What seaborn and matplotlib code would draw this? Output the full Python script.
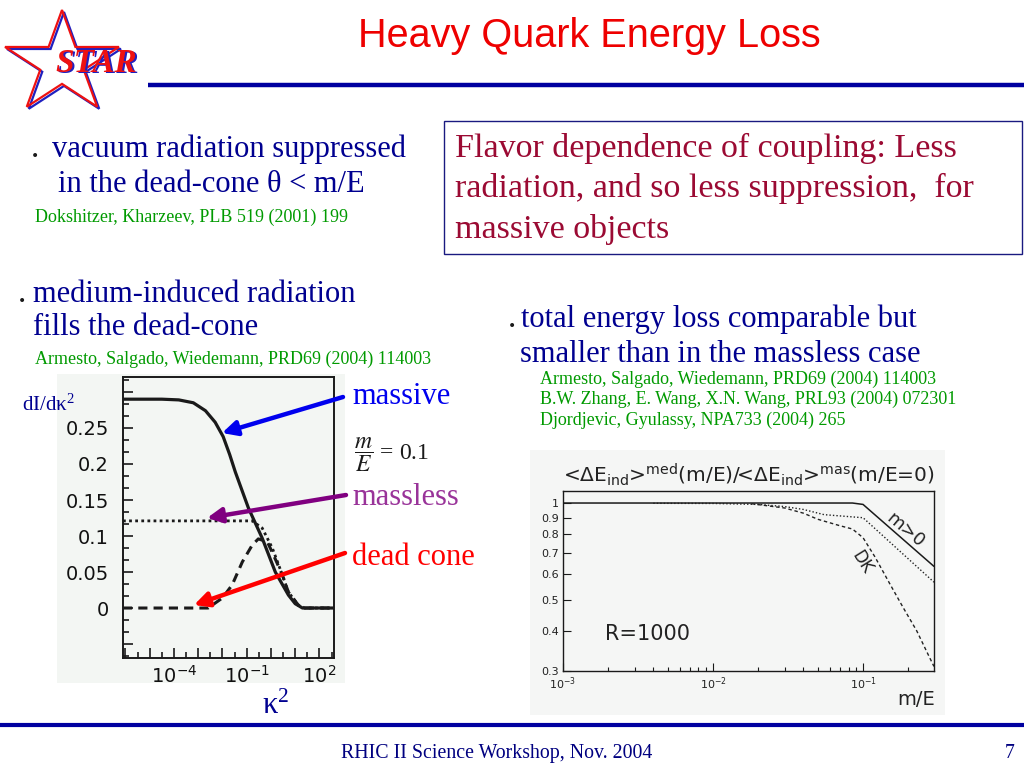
import numpy as np
import matplotlib
matplotlib.use("Agg")
import matplotlib.pyplot as plt
import seaborn as sns
from matplotlib.patches import Rectangle, Polygon
from matplotlib.ticker import FixedLocator, FixedFormatter, FuncFormatter, MultipleLocator, NullLocator

# ---------------- data: left plot, dI/dk2 vs k2 (m/E = 0.1), k2 as log10 ----------------
massive_logk2 = [-6.1, -4.5, -3.8, -3.2, -2.7, -2.3, -1.97, -1.7, -1.47, -0.93, -0.36, 0.18, 0.72, 1.0, 1.3, 2.6]
massive_val = [0.29, 0.29, 0.289, 0.285, 0.274, 0.258, 0.238, 0.213, 0.189, 0.139, 0.097, 0.05, 0.018, 0.006, 0.0, 0.0]
massless_logk2 = [-6.1, -3.0, -0.77, -0.36, 0.06, 0.47, 0.72, 1.13, 1.4, 2.6]
massless_val = [0.121, 0.121, 0.121, 0.111, 0.083, 0.046, 0.022, 0.004, 0.0, 0.0]
deadcone_logk2 = [-6.1, -2.59, -2.0, -1.6, -1.18, -0.77, -0.52, -0.15, 0.1, 0.47, 0.72, 1.13, 1.4, 2.6]
deadcone_val = [0.0, 0.0, 0.014, 0.032, 0.064, 0.0875, 0.096, 0.092, 0.074, 0.046, 0.022, 0.004, 0.0, 0.0]
left_ytick_labels = ["0", "0.05", "0.1", "0.15", "0.2", "0.25"]

# ---------------- data: right plot, <dE>med(m/E) / <dE>(m/E=0), R = 1000 ----------------
me_solid = [0.001, 0.085, 0.1, 0.297]
ratio_solid = [1.0, 1.0, 0.99, 0.635]
me_dotted = [0.004, 0.01, 0.02, 0.03, 0.04, 0.055, 0.1, 0.297]
ratio_dotted = [0.998, 0.997, 0.99, 0.975, 0.955, 0.92, 0.90, 0.567]
me_dk = [0.018, 0.03, 0.04, 0.05, 0.07, 0.085, 0.1, 0.12, 0.15, 0.184, 0.228, 0.278, 0.297]
ratio_dk = [0.995, 0.965, 0.93, 0.89, 0.85, 0.83, 0.78, 0.68, 0.563, 0.475, 0.40, 0.33, 0.31]
right_yticks = [0.3, 0.4, 0.5, 0.6, 0.7, 0.8, 0.9, 1.0]
right_ytick_labels = ["0.3", "0.4", "0.5", "0.6", "0.7", "0.8", "0.9", "1"]

sns.set_theme(style="white")
plt.rcParams['font.family'] = ['Liberation Serif', 'DejaVu Sans']
plt.rcParams['mathtext.fontset'] = 'stix'
plt.rcParams['mathtext.default'] = 'regular'
plt.rcParams['xtick.direction'] = 'in'
plt.rcParams['ytick.direction'] = 'in'

W, H = 1024, 768
fig = plt.figure(figsize=(10.24, 7.68), dpi=100)
fig.patch.set_facecolor('white')


def pix_axes(x0, y0, x1, y1, **kw):
    return fig.add_axes([x0 / W, 1 - y1 / H, (x1 - x0) / W, (y1 - y0) / H], **kw)


bg = pix_axes(0, 0, W, H, zorder=0)
fg = pix_axes(0, 0, W, H, zorder=10)
for a in (bg, fg):
    a.set_xlim(0, W)
    a.set_ylim(H, 0)
    a.axis('off')

BLUE_TXT = '#000090'
GREEN = '#009a00'
SERIF = ['Liberation Serif', 'DejaVu Sans']
ROOTF = 'DejaVu Sans'


def txt(x, y, s, size=22, color=BLUE_TXT, **kw):
    kw.setdefault('va', 'baseline')
    kw.setdefault('family', SERIF)
    fg.text(x, y, s, fontsize=size, color=color, **kw)


# plot backgrounds (scanned images)
bg.add_patch(Rectangle((57, 374), 288, 309, color='#f3f6f3', lw=0))
bg.add_patch(Rectangle((530, 450), 415, 265, color='#f5f6f5', lw=0))

# ---------------- header ----------------
txt(589, 47, "Heavy Quark Energy Loss", size=28.5, color='#ee0000', ha='center',
    family=['Liberation Sans', 'DejaVu Sans'])
fg.plot([148, W], [85, 85], color='#0000a0', lw=3.2, solid_capstyle='butt')

# STAR logo
ang = np.deg2rad(90 + 36 * np.arange(10))
rad = np.where(np.arange(10) % 2 == 0, 53.5, 20.4)
sx = 62 + 1.12 * rad * np.cos(ang)
sy = 63.5 - rad * np.sin(ang)
fg.add_patch(Polygon(np.c_[sx + 2, sy + 2], closed=True, fill=False, ec='#2020c0', lw=1.6))
fg.add_patch(Polygon(np.c_[sx, sy], closed=True, fill=False, ec='#ee1111', lw=1.6))
fg.text(57, 73, "STAR", fontsize=24, color='#2020c0', weight='bold', style='italic',
        family=SERIF, va='baseline')
fg.text(55, 72, "STAR", fontsize=24, color='#ee1111', weight='bold', style='italic',
        family=SERIF, va='baseline')

# ---------------- text blocks ----------------
txt(31, 160, "•", size=10, color='k', family='DejaVu Sans')
txt(52, 157, "vacuum radiation suppressed")
txt(58, 192, "in the dead-cone θ < m/E")
txt(35, 222, "Dokshitzer, Kharzeev, PLB 519 (2001) 199", size=13, color=GREEN)

fg.add_patch(Rectangle((444, 121), 578, 133, fill=False, ec='#1a1a80', lw=1.0))
BOX_RED = '#9b0a33'
txt(455, 157, "Flavor dependence of coupling: Less", size=24.5, color=BOX_RED)
txt(455, 197, "radiation, and so less suppression,  for", size=24.5, color=BOX_RED)
txt(455, 238, "massive objects", size=24.5, color=BOX_RED)

txt(18, 305, "•", size=10, color='k', family='DejaVu Sans')
txt(33, 302, "medium-induced radiation")
txt(33, 335, "fills the dead-cone")
txt(35, 364, "Armesto, Salgado, Wiedemann, PRD69 (2004) 114003", size=13, color=GREEN)

txt(508, 330, "•", size=10, color='k', family='DejaVu Sans')
txt(521, 327, "total energy loss comparable but")
txt(520, 362, "smaller than in the massless case")
txt(540, 384, "Armesto, Salgado, Wiedemann, PRD69 (2004) 114003", size=13, color=GREEN)
txt(540, 404, "B.W. Zhang, E. Wang, X.N. Wang, PRL93 (2004) 072301", size=13, color=GREEN)
txt(540, 425, "Djordjevic, Gyulassy, NPA733 (2004) 265", size=13, color=GREEN)

# labels around left plot
txt(22, 411, "dI/dκ$^2$", size=15)
txt(262, 714, "κ$^2$", size=22)
txt(352, 404, "massive", color='#0000ee')
fg.text(354, 455, r"$\dfrac{\mathit{m}}{\mathit{E}}$ = 0.1", fontsize=17, color='k', va='center', family=SERIF)
txt(352, 505, "massless", color='#993399')
txt(352, 565, "dead cone", color='#ff0000')

arrows = [((343, 397), (222, 433), '#0000ee'),
          ((346, 495), (207, 518), '#800080'),
          ((345, 553), (194, 605), '#ff0000')]
for tail, tip, c in arrows:
    fg.annotate('', xy=tip, xytext=tail,
                arrowprops=dict(arrowstyle='-|>', color=c, lw=3.2, mutation_scale=22,
                                shrinkA=0, shrinkB=0))

# ---------------- footer ----------------
fg.plot([0, W], [725, 725], color='#0000a0', lw=3.0, solid_capstyle='butt')
txt(497, 758, "RHIC II Science Workshop, Nov. 2004", size=14.3, color='#000080', ha='center')
txt(1010, 758, "7", size=14.3, color='#000080', ha='center')

# ---------------- left plot ----------------
ax1 = pix_axes(123, 377, 334, 658, zorder=5)
ax1.set_facecolor('#f3f6f3')
k2_massive = 10 ** np.array(massive_logk2)
k2_massless = 10 ** np.array(massless_logk2)
k2_dead = 10 ** np.array(deadcone_logk2)
sns.lineplot(x=k2_massive, y=massive_val, ax=ax1, color='k', lw=2.3, estimator=None, sort=False)
sns.lineplot(x=k2_massless, y=massless_val, ax=ax1, color='k', lw=2.0, estimator=None, sort=False,
             linestyle=(0, (1, 1.2)))
sns.lineplot(x=k2_dead, y=deadcone_val, ax=ax1, color='k', lw=2.2, estimator=None, sort=False,
             linestyle=(0, (3, 2)))
ax1.set_xscale('log')
ax1.set_xlim(10 ** -6.1, 10 ** 2.6)
ax1.set_ylim(-0.0694, 0.3208)
ax1.xaxis.set_major_locator(FixedLocator([10.0 ** k for k in range(-6, 3)]))
ax1.xaxis.set_minor_locator(FixedLocator([10.0 ** (k + 0.5) for k in range(-7, 3)]))
ax1.xaxis.set_major_formatter(FuncFormatter(
    lambda v, p: "10$^{%d}$" % round(np.log10(v)) if round(np.log10(v)) in (-4, -1, 2) else ""))
ax1.yaxis.set_major_locator(MultipleLocator(0.05))
ax1.yaxis.set_minor_locator(MultipleLocator(0.05 / 3))
ax1.yaxis.set_major_formatter(FuncFormatter(
    lambda v, p: left_ytick_labels[int(round(v / 0.05))] if -0.001 < v < 0.26 else ""))
ax1.tick_params(which='both', direction='in', color='k', width=1.2, left=True, bottom=True,
                top=False, right=False, labelsize=14, labelcolor='#111111')
ax1.tick_params(axis='y', pad=10)
ax1.tick_params(axis='x', pad=5)
ax1.tick_params(which='major', length=7)
ax1.tick_params(which='minor', length=4)
for lab in ax1.get_xticklabels() + ax1.get_yticklabels():
    lab.set_family(ROOTF)
for s in ax1.spines.values():
    s.set_color('k')
    s.set_linewidth(1.4)
ax1.set_xlabel('')
ax1.set_ylabel('')

# ---------------- right plot ----------------
ax2 = pix_axes(563, 491, 934, 671, zorder=5)
ax2.set_facecolor('#f5f6f5')
sns.lineplot(x=me_solid, y=ratio_solid, ax=ax2, color='k', lw=1.1, estimator=None, sort=False)
sns.lineplot(x=me_dotted, y=ratio_dotted, ax=ax2, color='#222222', lw=1.0, estimator=None, sort=False,
             linestyle=(0, (1, 1.5)))
sns.lineplot(x=me_dk, y=ratio_dk, ax=ax2, color='#222222', lw=1.0, estimator=None, sort=False,
             linestyle=(0, (2.5, 2)))
ax2.set_xscale('log')
ax2.set_yscale('log')
ax2.set_xlim(1e-3, 10 ** -0.527)
ax2.set_ylim(0.3, 1.09)
ax2.yaxis.set_major_locator(FixedLocator(right_yticks))
ax2.yaxis.set_major_formatter(FixedFormatter(right_ytick_labels))
ax2.yaxis.set_minor_locator(NullLocator())
ax2.xaxis.set_major_locator(FixedLocator([1e-3, 1e-2, 1e-1]))
ax2.xaxis.set_major_formatter(FixedFormatter(["10$^{-3}$", "10$^{-2}$", "10$^{-1}$"]))
ax2.xaxis.set_minor_locator(FixedLocator([m * 10.0 ** d for d in (-3, -2, -1) for m in range(2, 10)]))
ax2.tick_params(which='both', direction='in', color='k', width=0.8, left=True, bottom=True,
                top=False, right=False, labelsize=8, labelcolor='#222222', pad=3)
ax2.tick_params(which='major', length=6)
ax2.tick_params(which='minor', length=3)
for lab in ax2.get_xticklabels() + ax2.get_yticklabels():
    lab.set_family(ROOTF)
for s in ax2.spines.values():
    s.set_color('k')
    s.set_linewidth(1.0)
ax2.set_xlabel('')
ax2.set_ylabel('')

txt(563, 482, "<ΔE$_{ind}$>$^{med}$(m/E)/<ΔE$_{ind}$>$^{mas}$(m/E=0)", size=14.5, color='#222222', family=ROOTF)
txt(605, 640, "R=1000", size=15, color='#222222', family=ROOTF)
txt(935, 705, "m/E", size=14, color='#222222', family=ROOTF, ha='right')
fg.text(905, 530, "m>0", fontsize=13, color='#222222', family=ROOTF, rotation=-40,
        ha='center', va='center', rotation_mode='anchor')
fg.text(862, 562, "DK", fontsize=12, color='#222222', family=ROOTF, rotation=-58,
        ha='center', va='center', rotation_mode='anchor')

fig.savefig("out.png", dpi=100)
